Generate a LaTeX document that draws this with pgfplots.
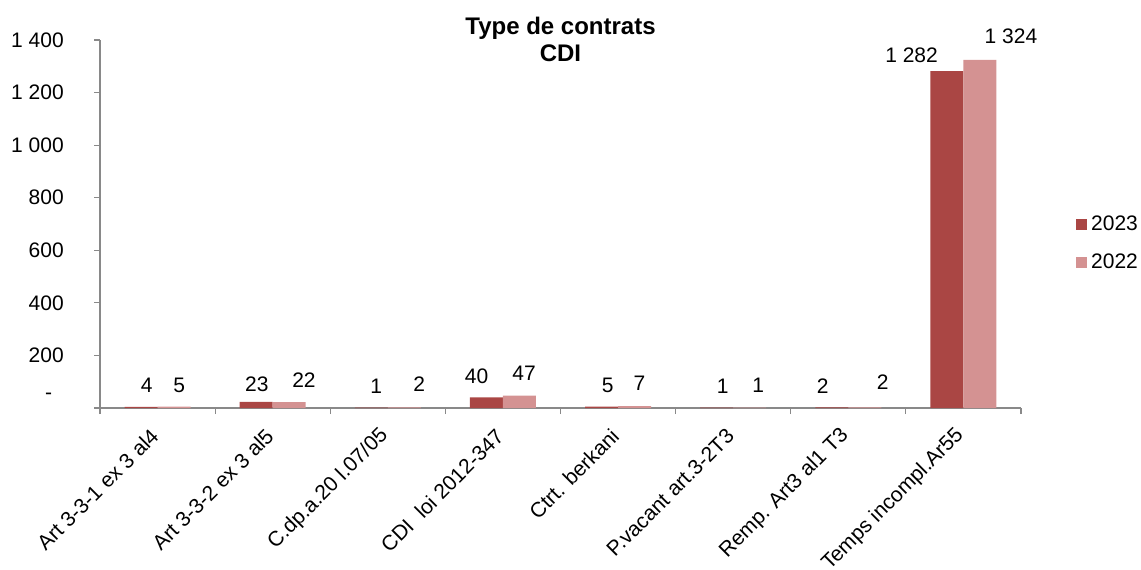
\documentclass[border=0pt]{standalone}
\usepackage{fontspec}
\setmainfont{Liberation Sans}
\usepackage{pgfplots}
\usepackage{pgfplotstable}
\pgfplotsset{compat=1.18}
\definecolor{darkred}{RGB}{170,70,68}
\definecolor{pinkred}{RGB}{212,146,146}
\definecolor{axisgray}{RGB}{137,137,137}

\pgfplotstableread{
x y dx dy
0 4 2.8 11.0
1 23 0.3 8.9
2 1 2.4 10.5
3 40 -4.9 10.8
4 5 3.1 10.9
5 1 3.0 10.9
6 2 -4.6 10.8
7 1282 -17.7 8.0
}\dataA

\pgfplotstableread{
x y dx dy
0 5 2.6 10.9
1 22 7.4 10.8
2 2 7.5 11.6
3 47 2.3 11.2
4 7 2.4 11.5
5 1 4.3 11.4
6 2 9.0 12.9
7 1324 15.5 11.7
}\dataB

\begin{document}
\begin{tikzpicture}
\path[use as bounding box] (-50pt,-80.5pt) rectangle (520.5pt,204pt);
\begin{axis}[
  at={(0,0)}, anchor=south west,
  width=460.5pt, height=184pt, scale only axis,
  xmin=-0.5, xmax=7.5, ymin=0, ymax=1400,
  clip=false,
  axis lines*=left,
  axis line style={draw=axisgray, line width=0.6pt},
  tick align=outside,
  ytick={0,200,...,1400},
  yticklabels={{\smash{\raisebox{4.5pt}{-}}\kern5.8pt},200,400,600,800,1 000,1 200,1 400},
  yticklabel style={xshift=-11.8pt, anchor=east, font=\fontsize{10.5}{12}\selectfont},
  ytick style={draw=axisgray, line width=0.6pt},
  major tick length=2.8pt,
  xtick={0,...,7},
  xticklabels={Art 3-3-1 ex 3 al4, Art 3-3-2 ex 3 al5, C.dp.a.20 l.07/05, CDI\ \ loi 2012-347, Ctrt. berkani, P.vacant art.3-2T3, Remp. Art3 al1 T3, Temps incompl.Ar55},
  xtick style={draw=none},
  xticklabel style={xshift=1pt, yshift=-7pt, rotate=45, anchor=east, font=\fontsize{10.5}{12}\selectfont},
  minor xtick={-0.5,0.5,...,7.5},
  minor tick length=3pt,
  minor x tick style={draw=axisgray, line width=0.6pt},
  ybar=0pt, bar width=16.5pt,
  title={Type de contrats\\CDI},
  title style={at={(0.5,1)}, anchor=north, yshift=5.5pt, inner sep=0pt, align=center, font=\bfseries\fontsize{12}{13.5}\selectfont},
  legend style={at={(1.0597,0.447)}, anchor=west, draw=none, fill=none, inner sep=0pt, row sep=6.5pt,
    font=\fontsize{10.5}{12}\selectfont, legend cell align=left},
  nodes near coords,
  nodes near coords style={anchor=center, inner sep=0pt, xshift=\dx*1pt, yshift=\dy*1pt, font=\fontsize{10.5}{12}\selectfont, text=black,
    /pgf/number format/assume math mode=true, /pgf/number format/1000 sep={\ }},
  visualization depends on={\thisrow{dx}\as\dx},
  visualization depends on={\thisrow{dy}\as\dy},
]
\addplot[fill=darkred, draw=none, legend image code/.code={\fill[darkred] (0pt,-2.7pt) rectangle (5.4pt,2.7pt);}] table[x=x,y=y] {\dataA};
\addlegendentry{2023}
\addplot[fill=pinkred, draw=none, legend image code/.code={\fill[pinkred] (0pt,-2.7pt) rectangle (5.4pt,2.7pt);}] table[x=x,y=y] {\dataB};
\addlegendentry{2022}
\end{axis}
\end{tikzpicture}
\end{document}
